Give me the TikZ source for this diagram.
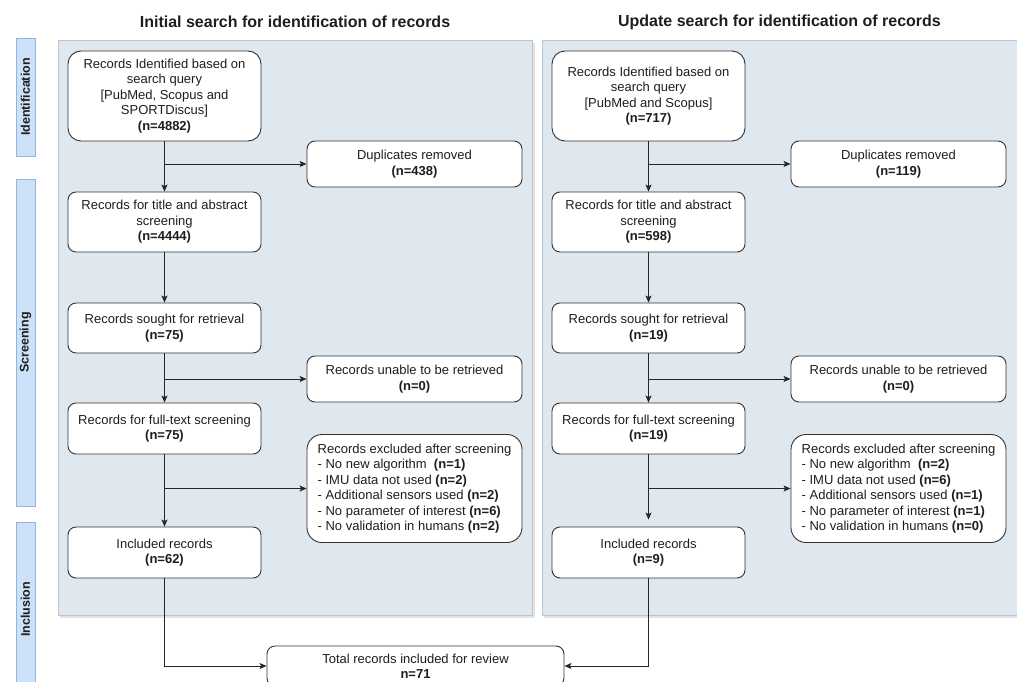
\documentclass[tikz,border=0pt]{standalone}
\usepackage{fontspec}
\setmainfont{Liberation Sans}
\usetikzlibrary{arrows.meta}
\definecolor{panelfill}{HTML}{DFE7EF}
\definecolor{paneldraw}{HTML}{BCC5CF}
\definecolor{panelshadow}{HTML}{E4E4E4}
\definecolor{sidefill}{HTML}{CDE1F9}
\definecolor{sidedraw}{HTML}{93B4DD}
\definecolor{txt}{HTML}{1E1E1E}
\begin{document}
\begin{tikzpicture}[x=1pt,y=-1pt,
  box/.style={draw=black!80, fill=white, rounded corners=8pt, line width=0.9pt,
    align=center, inner sep=0pt, text=txt, font=\fontsize{13}{15.5}\selectfont},
  leftbox/.style={box, minimum width=193pt},
  sidebox/.style={box, minimum width=215pt},
  panel/.style={draw=paneldraw, fill=panelfill, line width=0.8pt, inner sep=0pt},
  side/.style={draw=sidedraw, fill=sidefill, line width=0.8pt, rotate=90, inner sep=0pt,
    minimum height=19pt, text=txt, font=\fontsize{12.5}{14}\selectfont\bfseries},
  heading/.style={text=txt, font=\fontsize{16}{18}\selectfont\bfseries, inner sep=0pt},
  arr/.style={draw=black!85, line width=0.9pt, -{Stealth[length=7pt,width=6pt,inset=1.5pt]}}
]
\useasboundingbox (0,0) rectangle (1017,682);

% headings
\node[heading] (hl) at (295,22) {Initial search for identification of records};
\node[heading] (hr) at (779.5,22) {Update search for identification of records};

% panels with a faint shadow
\fill[panelshadow] (60,43) rectangle (535,618);
\fill[panelshadow] (544,43) rectangle (1020,618);
\node[panel, minimum width=474pt, minimum height=575pt] (pl) at (295,327.5) {};
\node[panel, minimum width=475pt, minimum height=575pt] (pr) at (779.5,327.5) {};

% sidebars
\node[side, minimum width=118pt] (sid) at (25.5,97) {Identification};
\node[side, minimum width=327pt] (sscr) at (25.5,342.5) {Screening};
\node[side, minimum width=175pt] (sinc) at (25.5,609.5) {Inclusion};

% left column
\node[leftbox, rounded corners=13pt, minimum height=90pt] (l1) at (164.5,96)
  {Records Identified based on\\search query\\{[}PubMed, Scopus and\\SPORTDiscus{]}\\\textbf{(n=4882)}};
\node[leftbox, minimum height=60pt] (l2) at (164.5,222)
  {Records for title and abstract\\screening\\\textbf{(n=4444)}};
\node[leftbox, minimum height=50pt] (l3) at (164.5,328)
  {Records sought for retrieval\\\textbf{(n=75)}};
\node[leftbox, minimum height=51pt] (l4) at (164.5,428.5)
  {Records for full-text screening\\\textbf{(n=75)}};
\node[leftbox, minimum height=51pt] (l5) at (164.5,552.5)
  {Included records\\\textbf{(n=62)}};
\node[sidebox, minimum height=46pt] (ldup) at (414.5,164)
  {Duplicates removed\\\textbf{(n=438)}};
\node[sidebox, minimum height=46pt] (lun) at (414.5,379)
  {Records unable to be retrieved\\\textbf{(n=0)}};
\node[sidebox, rounded corners=15pt, minimum height=108pt, align=left] (lex) at (414.5,488.5)
  {Records excluded after screening\\
   - No new algorithm\ \ \textbf{(n=1)}\\
   - IMU data not used \textbf{(n=2)}\\
   - Additional sensors used \textbf{(n=2)}\\
   - No parameter of interest \textbf{(n=6)}\\
   - No validation in humans \textbf{(n=2)}};

% right column
\node[leftbox, rounded corners=13pt, minimum height=90pt] (r1) at (648.5,96)
  {Records Identified based on\\search query\\{[}PubMed and Scopus{]}\\\textbf{(n=717)}};
\node[leftbox, minimum height=60pt] (r2) at (648.5,222)
  {Records for title and abstract\\screening\\\textbf{(n=598)}};
\node[leftbox, minimum height=50pt] (r3) at (648.5,328)
  {Records sought for retrieval\\\textbf{(n=19)}};
\node[leftbox, minimum height=51pt] (r4) at (648.5,428.5)
  {Records for full-text screening\\\textbf{(n=19)}};
\node[leftbox, minimum height=51pt] (r5) at (648.5,552.5)
  {Included records\\\textbf{(n=9)}};
\node[sidebox, minimum height=46pt] (rdup) at (898.5,164)
  {Duplicates removed\\\textbf{(n=119)}};
\node[sidebox, minimum height=46pt] (run) at (898.5,379)
  {Records unable to be retrieved\\\textbf{(n=0)}};
\node[sidebox, rounded corners=15pt, minimum height=108pt, align=left] (rex) at (898.5,488.5)
  {Records excluded after screening\\
   - No new algorithm\ \ \textbf{(n=2)}\\
   - IMU data not used \textbf{(n=6)}\\
   - Additional sensors used \textbf{(n=1)}\\
   - No parameter of interest \textbf{(n=1)}\\
   - No validation in humans \textbf{(n=0)}};

% total
\node[box, minimum width=297pt, minimum height=40pt, font=\fontsize{13}{15}\selectfont] (tot) at (415.5,666)
  {Total records included for review\\\textbf{n=71}};

% connectors left
\draw[arr] (l1.south) -- (l2.north);
\draw[arr] (l1.south |- ldup.west) -- (ldup.west);
\draw[arr] (l2.south) -- (l3.north);
\draw[arr] (l3.south) -- (l4.north);
\draw[arr] (l3.south |- lun.west) -- (lun.west);
\draw[arr] (l4.south) -- (l5.north);
\draw[arr] (l4.south |- lex.west) -- (lex.west);
\draw[arr] (l5.south) |- (tot.west);

% connectors right
\draw[arr] (r1.south) -- (r2.north);
\draw[arr] (r1.south |- rdup.west) -- (rdup.west);
\draw[arr] (r2.south) -- (r3.north);
\draw[arr] (r3.south) -- (r4.north);
\draw[arr] (r3.south |- run.west) -- (run.west);
\draw[arr, shorten >=7pt] (r4.south) -- (r5.north);
\draw[arr] (r4.south |- rex.west) -- (rex.west);
\draw[arr] (r5.south) |- (tot.east);
\end{tikzpicture}
\end{document}
